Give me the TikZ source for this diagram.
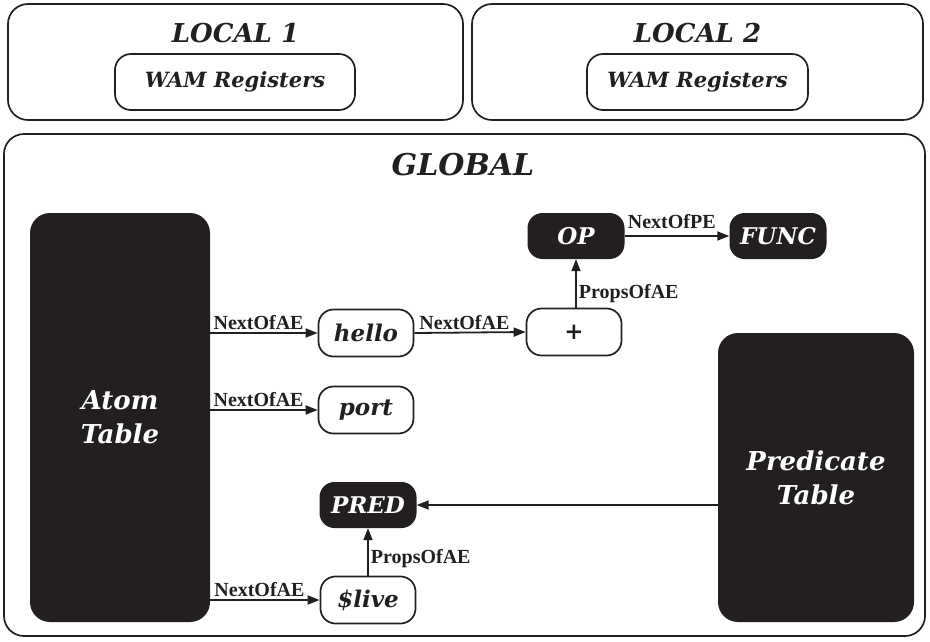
\documentclass[tikz,border=0pt]{standalone}
\usepackage{fontspec}
\setmainfont{DejaVu Serif}
\newfontfamily\labfont{Liberation Serif}
\usetikzlibrary{arrows.meta}
\definecolor{ink}{HTML}{231F20}
\tikzset{
  frame/.style={draw=ink, line width=1.7pt, rounded corners=20pt, inner sep=0pt},
  title/.style={text=ink, font=\bfseries\itshape\fontsize{#1}{#1}\selectfont, inner sep=0pt},
  regbox/.style={draw=ink, text=ink, line width=1.7pt, rounded corners=16pt, minimum height=56pt, inner sep=0pt,
     font=\bfseries\itshape\fontsize{21}{23}\selectfont},
  wnode/.style={draw=ink, text=ink, line width=1.7pt, rounded corners=15pt, minimum width=95pt, minimum height=47pt, inner sep=0pt,
     font=\bfseries\itshape\fontsize{23}{25}\selectfont},
  bnode/.style={fill=ink, text=white, rounded corners=15pt, minimum width=97pt, minimum height=46pt, inner sep=0pt,
     font=\bfseries\itshape\fontsize{23}{25}\selectfont},
  table/.style={fill=ink, text=white, rounded corners=20pt, inner sep=0pt, align=center,
     font=\bfseries\itshape\fontsize{26}{34}\selectfont},
  lbl/.style={text=ink, font=\labfont\bfseries\fontsize{20}{22}\selectfont, inner sep=2pt},
  arr/.style={draw=ink, -{Triangle[length=12pt,width=9pt]}, line width=1.8pt}
}
\begin{document}
\begin{tikzpicture}[x=1pt,y=-1pt]
\useasboundingbox (0,0) rectangle (930,641);
% local boxes
\node[frame, minimum width=455pt, minimum height=116pt] (local1) at (235.5,62) {};
\node[title=26] (local1t) at (235.5,33) {LOCAL 1};
\node[regbox, minimum width=240pt] (wam1) at (235,82) {WAM Registers};
\node[frame, minimum width=451pt, minimum height=116pt] (local2) at (697.5,62) {};
\node[title=26] (local2t) at (697.5,33) {LOCAL 2};
\node[regbox, minimum width=221pt] (wam2) at (697.5,82) {WAM Registers};
% global
\node[frame, minimum width=921pt, minimum height=502pt] (global) at (464.5,385) {};
\node[title=30] (globalt) at (463,165) {GLOBAL};
% tables
\node[table, minimum width=180pt, minimum height=409pt] (atom) at (120,417.5) {Atom\\Table};
\node[table, minimum width=196pt, minimum height=289pt] (ptab) at (816,477.5) {Predicate\\Table};
% nodes
\node[wnode] (hello) at (366,333) {hello};
\node[wnode] (plus) at (574,332) {+};
\node[wnode] (port) at (366,410) {port};
\node[wnode] (live) at (368,600) {\$live};
\node[bnode] (op) at (576,236) {OP};
\node[bnode] (func) at (778,236) {FUNC};
\node[bnode] (pred) at (368,505) {PRED};
% connectors
\draw[arr] (atom.east |- hello.west) -- node[lbl, above, pos=0.45] {NextOfAE} (hello.west);
\draw[arr] (atom.east |- port.west) -- node[lbl, above, pos=0.45] {NextOfAE} (port.west);
\draw[arr] (atom.east |- live.west) -- node[lbl, above, pos=0.45] {NextOfAE} (live.west);
\draw[arr] (hello.east) -- node[lbl, above, pos=0.45] {NextOfAE} (plus.west);
\draw[arr] (plus.north -| op.south) -- node[lbl, right, pos=0.3] {PropsOfAE} (op.south);
\draw[arr] (op.east) -- node[lbl, above, yshift=4pt, pos=0.45] {NextOfPE} (func.west);
\draw[arr] (live.north) -- node[lbl, right, pos=0.35] {PropsOfAE} (pred.south);
\draw[arr] (ptab.west |- pred.east) -- (pred.east);
\end{tikzpicture}
\end{document}
